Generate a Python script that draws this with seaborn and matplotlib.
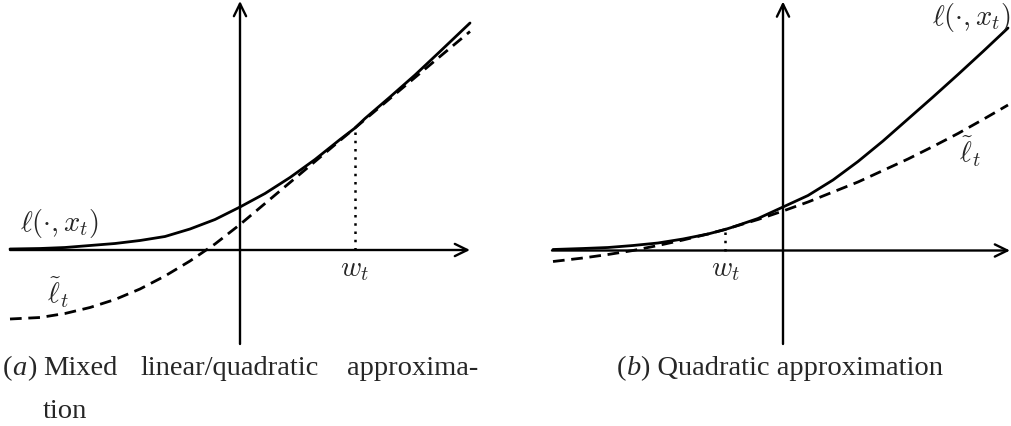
import matplotlib
matplotlib.use("Agg")
import matplotlib.pyplot as plt
import seaborn as sns

# values (1 unit = 50 px, origin at the axes crossing)
left_x = [-4.6, -4.0, -3.5, -3.0, -2.5, -2.0, -1.5, -1.0, -0.5, 0.0,
          0.5, 1.0, 1.5, 2.0, 2.3, 2.5, 3.0, 3.5, 4.0, 4.6]
left_loss = [0.02, 0.03, 0.05, 0.09, 0.13, 0.19, 0.27, 0.42, 0.61, 0.86,
             1.13, 1.45, 1.81, 2.21, 2.44, 2.63, 3.06, 3.50, 3.97, 4.54]
left_approx = [-1.38, -1.35, -1.27, -1.15, -0.99, -0.78, -0.52, -0.22, 0.12, 0.51,
               0.93, 1.35, 1.77, 2.19, 2.44, 2.61, 3.03, 3.45, 3.87, 4.37]
left_w = 2.3
left_w_loss = 2.44

right_x = [-4.6, -4.0, -3.5, -3.0, -2.5, -2.0, -1.5, -1.16, -1.0, -0.5, 0.0,
           0.5, 1.0, 1.5, 2.0, 2.5, 3.0, 3.5, 4.0, 4.5]
right_loss = [0.02, 0.04, 0.06, 0.10, 0.15, 0.23, 0.33, 0.42, 0.47, 0.64, 0.87,
              1.10, 1.41, 1.78, 2.19, 2.63, 3.07, 3.52, 3.98, 4.45]
right_approx = [-0.22, -0.15, -0.08, 0.00, 0.10, 0.21, 0.33, 0.42, 0.47, 0.62, 0.79,
                0.97, 1.17, 1.37, 1.60, 1.83, 2.08, 2.34, 2.62, 2.91]
right_w = -1.16
right_w_loss = 0.42

loss_label = r'$\ell(\cdot, x_t)$'
approx_label = r'$\tilde{\ell}_t$'
w_label = r'$w_t$'

sns.set_style('white')
plt.rcParams['font.family'] = ['Liberation Serif', 'DejaVu Serif']
plt.rcParams['mathtext.fontset'] = 'cm'

W, H = 1011, 427
FS = 20.5
fig = plt.figure(figsize=(W / 100, H / 100), dpi=100)


def px_box(x0, x1, y0, y1):
    return [x0 / W, 1 - y1 / H, (x1 - x0) / W, (y1 - y0) / H]


def fig_text(x, y, s, **kw):
    return fig.text(x / W, 1 - y / H, s, fontsize=FS, **kw)


def draw_axes(ax, x0, x1, y0, y1):
    arrow = dict(arrowstyle='->,head_length=0.45,head_width=0.22', lw=1.7,
                 color='black', shrinkA=0, shrinkB=0, mutation_scale=20)
    ax.annotate('', xy=(x1, 0), xytext=(x0, 0), arrowprops=arrow, annotation_clip=False)
    ax.annotate('', xy=(0, y1), xytext=(0, y0), arrowprops=arrow, annotation_clip=False)


def draw_panel(ax, x, loss, approx, w, w_loss):
    sns.lineplot(x=x, y=loss, ax=ax, color='black', lw=2.0, estimator=None, sort=False)
    sns.lineplot(x=x, y=approx, ax=ax, color='black', lw=2.0, estimator=None, sort=False)
    ax.lines[-1].set_dashes((4.2, 2.4))
    ax.vlines(w, 0, w_loss, colors='black', lw=1.8, linestyles=(0, (1, 2.3)))
    ax.axis('off')


ax_a = fig.add_axes(px_box(0, 480, 0, 350))
ax_a.set_xlim(-4.8, 4.8)
ax_a.set_ylim(-1.98, 5.02)
draw_panel(ax_a, left_x, left_loss, left_approx, left_w, left_w_loss)
draw_axes(ax_a, -4.6, 4.6, -1.88, 4.98)

ax_b = fig.add_axes(px_box(540, 1011, 0, 350))
ax_b.set_xlim(-4.86, 4.56)
ax_b.set_ylim(-1.97, 5.03)
draw_panel(ax_b, right_x, right_loss, right_approx, right_w, right_w_loss)
draw_axes(ax_b, -4.62, 4.54, -1.87, 4.98)

# curve labels
fig_text(60, 224, loss_label, ha='center', va='center')
fig_text(58, 293, approx_label, ha='center', va='center')
fig_text(354, 271, w_label, ha='center', va='center')
fig_text(972, 17, loss_label, ha='center', va='center')
fig_text(970, 152, approx_label, ha='center', va='center')
fig_text(725, 271, w_label, ha='center', va='center')


# captions
def caption_tag(x, y, letter, rest):
    t0 = fig_text(x, y, '(', va='baseline')
    t1 = ax_a.annotate(letter, xy=(1, 0), xycoords=t0, va='bottom', fontsize=FS,
                       style='italic', annotation_clip=False)
    ax_a.annotate(')' + rest, xy=(1, 0), xycoords=t1, va='bottom', fontsize=FS,
                  annotation_clip=False)


caption_tag(3, 375.5, 'a', '')
fig_text(43, 375.5, 'Mixed', va='baseline')
fig_text(140, 375.5, 'linear/quadratic', va='baseline')
fig_text(347, 375.5, 'approxima-', va='baseline')
fig_text(43, 418, 'tion', va='baseline')
caption_tag(617, 375.5, 'b', ' Quadratic approximation')

fig.savefig('out.png', dpi=100)
